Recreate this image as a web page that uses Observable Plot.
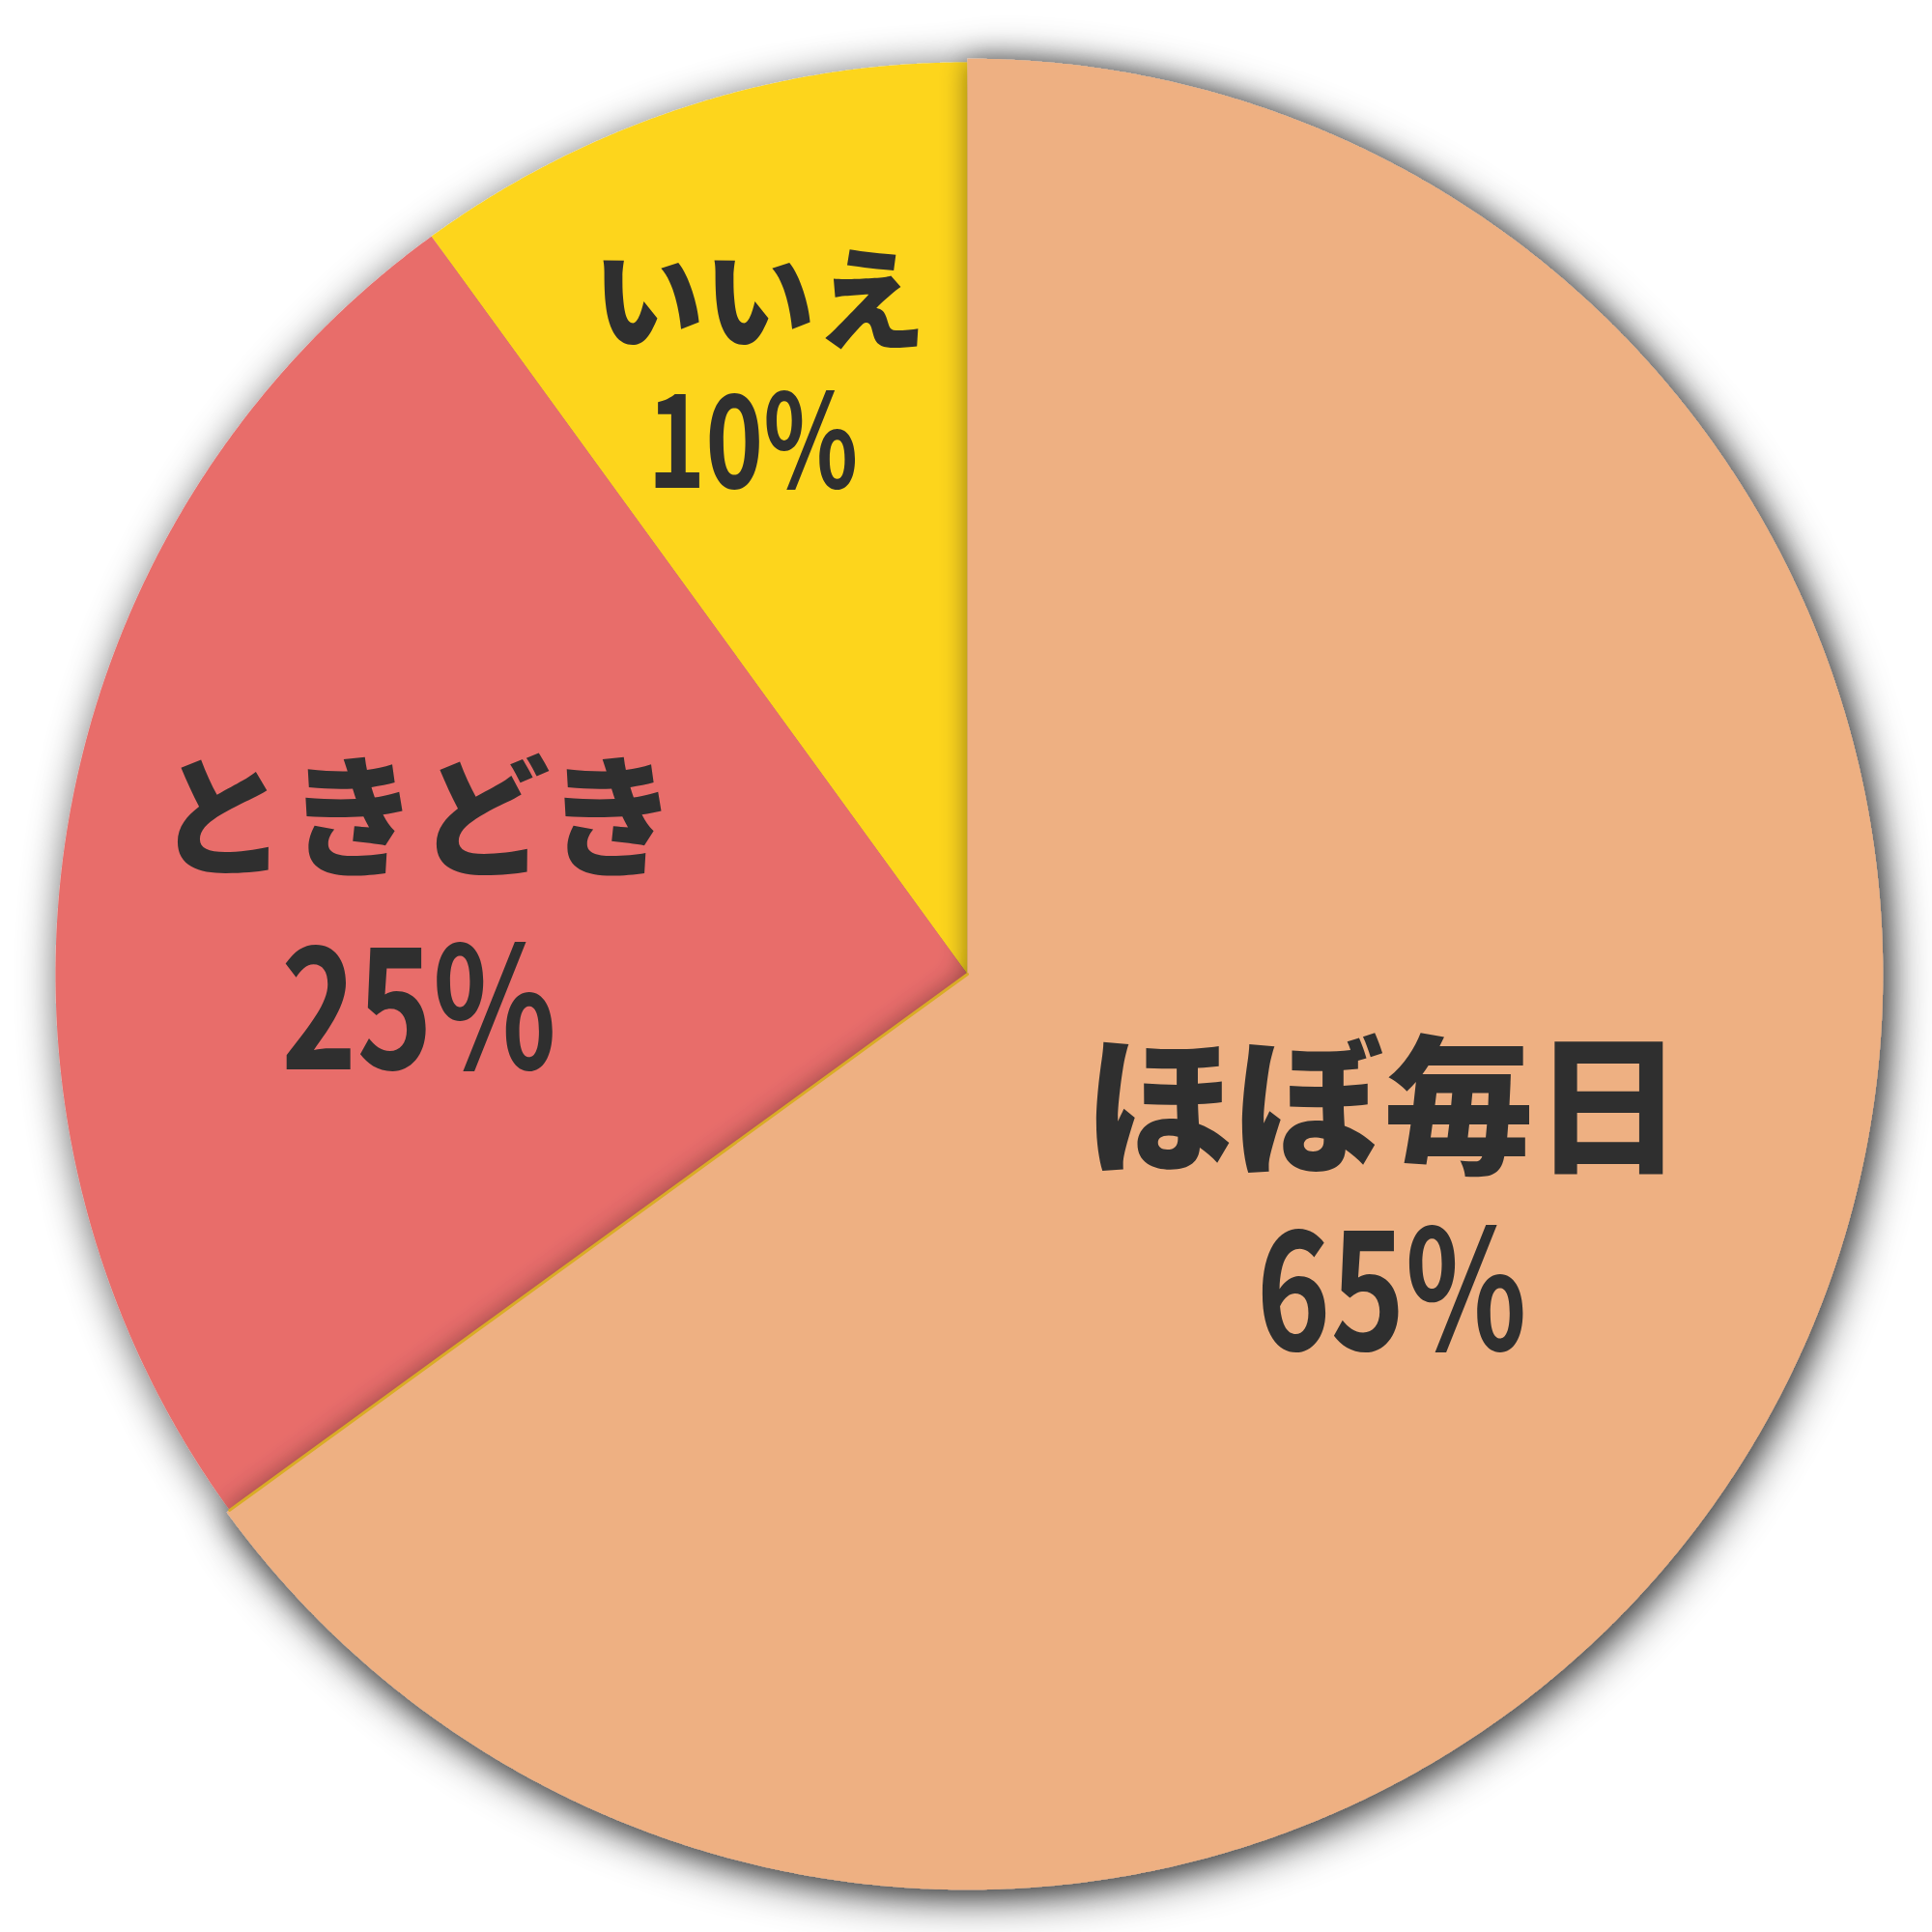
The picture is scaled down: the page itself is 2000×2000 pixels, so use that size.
<!DOCTYPE html>
<html>
<head>
<meta charset="utf-8">
<script src="https://cdn.jsdelivr.net/npm/d3@7"></script>
<script src="https://cdn.jsdelivr.net/npm/@observablehq/plot@0.6"></script>
<style>
  html, body { margin: 0; padding: 0; background: #ffffff; }
  #chart { width: 2000px; height: 2000px; }
</style>
</head>
<body>
<div id="chart"></div>
<script>
// ---- data ----
const categories = ["ほぼ毎日", "ときどき", "いいえ"];
const values = [65, 25, 10];
const percentLabels = ["65%", "25%", "10%"];

// ---- style ----
const colors = ["#EEB082", "#E86D6B", "#FDD51E"];
const textColor = "#2F2F2F";
const edgeColor = "#D9AC26";
const radiusScale = [1.004, 1, 1];          // orange slice sits a hair proud
const labelRadius = [0.522, 0.607, 0.70];    // anchor along slice mid-angle (fraction of r)
const nameOffset = [[-8, -80], [-4, -65], [-11, -64]];   // px from anchor
const pctOffset  = [[0, 111], [-2, 132], [-18, 82]];     // px from anchor
const nameSize = [155, 136, 115];
const pctSize = [172, 175, 134];
const pctSqueeze = 0.76;                      // condensed numerals

const W = 2000, H = 2000;
const mL = 57, mR = 55, mT = 64, mB = 48;
const R = (W - mL - mR) / 2; // px per data unit

const arcs = d3.pie().sort(null).value(d => d)(values);

function slicePoints(a, k) {
  const pts = [{x: 0, y: 0}];
  const step = Math.PI / 720;
  const n = Math.max(2, Math.ceil((a.endAngle - a.startAngle) / step));
  for (let i = 0; i <= n; i++) {
    const t = a.startAngle + (a.endAngle - a.startAngle) * i / n;
    pts.push({x: k * Math.sin(t), y: k * Math.cos(t)});
  }
  return pts;
}

const labelRows = arcs.map((a, i) => {
  const m = (a.startAngle + a.endAngle) / 2;
  const ax = labelRadius[i] * Math.sin(m), ay = labelRadius[i] * Math.cos(m);
  return {
    name: categories[i], pct: percentLabels[i],
    nx: ax + nameOffset[i][0] / R, ny: ay - nameOffset[i][1] / R,
    px: ax + pctOffset[i][0] / R, py: ay - pctOffset[i][1] / R,
    ns: nameSize[i], ps: pctSize[i]
  };
});

// boundary between the 65% and 25% slices (gold edge)
const edgeAngle = arcs[0].endAngle;
const edgePts = [{x: 0, y: 0}, {x: Math.sin(edgeAngle), y: Math.cos(edgeAngle)}];

// draw order: yellow, red (under), then orange on top
const order = [2, 1, 0];
const sliceMarks = order.map(i =>
  Plot.line(slicePoints(arcs[i], radiusScale[i]), {
    x: "x", y: "y", curve: "linear-closed",
    fill: colors[i], stroke: "none"
  })
);

const plot = Plot.plot({
  width: W, height: H,
  marginLeft: mL, marginRight: mR, marginTop: mT, marginBottom: mB,
  x: {domain: [-1, 1], axis: null},
  y: {domain: [-1, 1], axis: null},
  style: {background: "transparent", overflow: "visible"},
  marks: [
    ...sliceMarks,
    Plot.line(edgePts, {x: "x", y: "y", stroke: edgeColor, strokeWidth: 3}),
    Plot.text(labelRows, {
      x: "nx", y: "ny", text: "name",
      fontSize: d => d.ns, fill: textColor,
      fontFamily: "'Noto Sans CJK JP', 'Noto Sans', sans-serif", fontWeight: 900
    }),
    Plot.text(labelRows, {
      x: "px", y: "py", text: "pct",
      fontSize: d => d.ps, fill: textColor,
      fontFamily: "'Noto Sans CJK JP', 'Noto Sans', sans-serif", fontWeight: 700
    })
  ]
});

// ---- shadows ----
const NS = "http://www.w3.org/2000/svg";
const defs = document.createElementNS(NS, "defs");
defs.innerHTML = `
  <filter id="outerShadow" x="-10%" y="-10%" width="120%" height="120%">
    <feGaussianBlur in="SourceAlpha" stdDeviation="22"/>
    <feOffset dx="5" dy="7" result="b"/>
    <feComponentTransfer><feFuncA type="linear" slope="0.7"/></feComponentTransfer>
    <feMerge><feMergeNode/><feMergeNode in="SourceGraphic"/></feMerge>
  </filter>
  <filter id="topShadow" x="-10%" y="-10%" width="120%" height="120%">
    <feGaussianBlur in="SourceAlpha" stdDeviation="14"/>
    <feOffset dx="0" dy="1" result="b"/>
    <feComponentTransfer><feFuncA type="linear" slope="0.45"/></feComponentTransfer>
    <feMerge><feMergeNode/><feMergeNode in="SourceGraphic"/></feMerge>
  </filter>`;
plot.insertBefore(defs, plot.firstChild);
const lineGroups = plot.querySelectorAll('g[aria-label="line"]');
const pie = document.createElementNS(NS, "g");
pie.setAttribute("filter", "url(#outerShadow)");
lineGroups[0].parentNode.insertBefore(pie, lineGroups[0]);
pie.appendChild(lineGroups[0]);
pie.appendChild(lineGroups[1]);
pie.appendChild(lineGroups[2]);
lineGroups[2].setAttribute("filter", "url(#topShadow)");

// condense the percentage numerals horizontally (about each label's own anchor)
const textGroups = plot.querySelectorAll('g[aria-label="text"]');
const pctGroup = textGroups[textGroups.length - 1];
pctGroup.querySelectorAll("text").forEach(t => {
  const tr = t.getAttribute("transform");
  if (tr) {
    t.setAttribute("transform", tr + ` scale(${pctSqueeze},1)`);
  } else {
    const x = +t.getAttribute("x") || 0, y = +t.getAttribute("y") || 0;
    t.removeAttribute("x"); t.removeAttribute("y");
    t.setAttribute("transform", `translate(${x},${y}) scale(${pctSqueeze},1)`);
  }
});

document.getElementById("chart").appendChild(plot);
</script>
</body>
</html>
